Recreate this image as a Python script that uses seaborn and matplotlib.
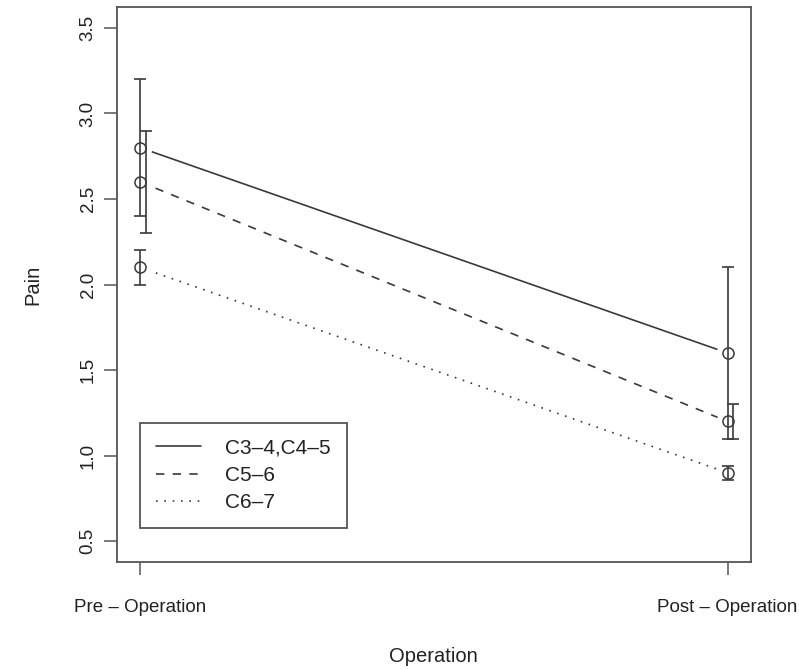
import matplotlib
matplotlib.use("Agg")
import matplotlib.pyplot as plt
import seaborn as sns
import pandas as pd
import numpy as np

# ---- data ----
stages = ["Pre \u2013 Operation", "Post \u2013 Operation"]
groups = ["C3\u20134,C4\u20135", "C5\u20136", "C6\u20137"]
c34_mean = [2.8, 1.6]
c56_mean = [2.6, 1.2]
c67_mean = [2.1, 0.9]
c34_err = [0.4, 0.5]
c56_err = [0.3, 0.1]
c67_err = [0.1, 0.04]
err_offset = [0.0, 0.01, 0.0]

means = [c34_mean, c56_mean, c67_mean]
errs = [c34_err, c56_err, c67_err]

rows = []
for g, m in zip(groups, means):
    for i, v in enumerate(m):
        rows.append({"Operation": i + 1, "Pain": v, "Group": g})
df = pd.DataFrame(rows)

sns.set_theme(style="white")
plt.rcParams["font.family"] = ["Liberation Sans", "DejaVu Sans"]

fig = plt.figure(figsize=(7.99, 6.70), dpi=100)
ax = fig.add_axes([0.146, 0.1616, 0.794, 0.8274])

line_col = "#3a3a3a"
dashes = {groups[0]: "", groups[1]: (5, 5), groups[2]: (1, 4)}
sns.lineplot(data=df, x="Operation", y="Pain", style="Group", dashes=dashes,
             color=line_col, linewidth=1.2, ax=ax, legend=True, zorder=2)

# gaps around points (R type="b")
for g, m in zip(groups, means):
    ax.plot([1, 2], m, linestyle="none", marker="o", markersize=17,
            markerfacecolor="white", markeredgecolor="none", zorder=3)

# error bars
for g, m, e, off in zip(groups, means, errs, err_offset):
    xs = np.array([1, 2]) + off
    ax.errorbar(xs, m, yerr=e, fmt="none", ecolor=line_col, elinewidth=1.2,
                capsize=4.3, capthick=1.2, zorder=4)

# open circles
for g, m in zip(groups, means):
    ax.plot([1, 2], m, linestyle="none", marker="o", markersize=8,
            markerfacecolor="none", markeredgecolor=line_col,
            markeredgewidth=1.1, zorder=5)

ax.set_xlim(0.96, 2.04)
ax.set_ylim(0.38, 3.62)
ax.set_xticks([1, 2])
ax.set_xticklabels(stages)
ax.set_yticks([0.5, 1.0, 1.5, 2.0, 2.5, 3.0, 3.5])
ax.set_yticklabels(["0.5", "1.0", "1.5", "2.0", "2.5", "3.0", "3.5"],
                   rotation=90, va="center")
ax.tick_params(axis="both", direction="out", length=9.5, width=1.1,
               color="#555555", labelsize=13.5, labelcolor="#222222",
               left=True, bottom=True)
ax.tick_params(axis="y", pad=5)
ax.tick_params(axis="x", pad=17)
ax.set_xlabel("Operation", fontsize=14.5, color="#222222", labelpad=23)
ax.set_ylabel("Pain", fontsize=14.5, color="#222222", labelpad=27)
for s in ax.spines.values():
    s.set_color("#555555")
    s.set_linewidth(1.3)
    s.set_visible(True)

leg = ax.legend(loc="lower left", bbox_to_anchor=(0.0367, 0.0608),
                borderaxespad=0, fontsize=15, handlelength=2.2,
                handletextpad=1.15, labelspacing=0.4, borderpad=0.75,
                fancybox=False, framealpha=1, title=None)
leg.get_frame().set_edgecolor("#555555")
leg.get_frame().set_linewidth(1.3)
for t in leg.get_texts():
    t.set_color("#222222")

fig.savefig("out.png", dpi=100)
